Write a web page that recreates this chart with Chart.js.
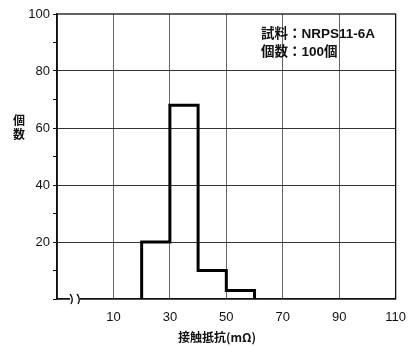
<!DOCTYPE html>
<html>
<head>
<meta charset="utf-8">
<script src="https://cdn.jsdelivr.net/npm/chart.js@4/dist/chart.umd.min.js"></script>
<style>
  html, body { margin: 0; padding: 0; background: #fff; }
  #wrap { width: 417px; height: 347px; }
</style>
</head>
<body>
<div id="wrap"><canvas id="grafico"></canvas></div>
<script>
// Datos del histograma
const binEdges = [20, 30, 40, 50, 60];      // limites de las clases (mΩ)
const counts = [20, 68, 10, 3];             // cantidad por clase
const xTicks = [-10, 10, 30, 50, 70, 90, 110];
const yTicks = [0, 10, 20, 30, 40, 50, 60, 70, 80, 90, 100];

const xTitle = "接触抵抗(mΩ)";
const yTitle = ["個", "数"];
const notes = ["試料：NRPS11-6A", "個数：100個"];

const FONT = "'Liberation Sans', Arial, sans-serif";

// Construye el contorno escalonado del histograma
const outline = [{x: binEdges[0], y: 0}];
counts.forEach((c, i) => {
    outline.push({x: binEdges[i], y: c});
    outline.push({x: binEdges[i + 1], y: c});
});
outline.push({x: binEdges[binEdges.length - 1], y: 0});

// Marco, titulos y anotaciones
const extras = {
    id: 'extras',
    afterDraw(chart) {
        const {ctx, chartArea: a} = chart;
        ctx.save();
        ctx.setLineDash([]);
        ctx.strokeStyle = '#111';
        ctx.lineWidth = 1.3;
        ctx.strokeRect(a.left, a.top, a.right - a.left, a.bottom - a.top);

        // simbolo de corte en el eje x
        ctx.strokeStyle = '#fff';
        ctx.lineWidth = 5;
        ctx.beginPath();
        ctx.moveTo(70, a.bottom); ctx.lineTo(80, a.bottom);
        ctx.stroke();
        ctx.strokeStyle = '#111';
        ctx.lineWidth = 1.3;
        [70, 77].forEach(x0 => {
            ctx.beginPath();
            ctx.moveTo(x0, a.bottom - 5);
            ctx.quadraticCurveTo(x0 + 4, a.bottom, x0 + 1, a.bottom + 5);
            ctx.stroke();
        });

        ctx.fillStyle = '#111';
        ctx.font = "bold 12px 'Noto Sans CJK JP', sans-serif";
        ctx.textAlign = 'center';
        ctx.textBaseline = 'middle';
        ctx.fillText(xTitle, 217, 337);
        yTitle.forEach((t, i) => ctx.fillText(t, 19, 120 + i * 14));

        ctx.textAlign = 'left';
        ctx.font = "bold 13.5px 'Liberation Sans', 'Noto Sans CJK JP', sans-serif";
        notes.forEach((t, i) => ctx.fillText(t, 261, 34 + i * 18));
        ctx.restore();
    }
};

const ctx = document.getElementById('grafico').getContext('2d');
new Chart(ctx, {
    type: 'line',
    data: {
        datasets: [{
            data: outline,
            borderColor: '#000',
            borderWidth: 3,
            pointRadius: 0,
            tension: 0,
            fill: false
        }]
    },
    options: {
        responsive: true,
        maintainAspectRatio: false,
        animation: false,
        layout: { padding: { top: 14, right: 17, left: 0, bottom: 0 } },
        plugins: { legend: { display: false }, tooltip: { enabled: false } },
        scales: {
            x: {
                type: 'linear',
                min: -10,
                max: 110,
                afterBuildTicks: s => { s.ticks = xTicks.map(v => ({value: v})); },
                afterFit: s => { s.height = 48; },
                border: { display: true, color: '#111', width: 1.3 },
                grid: {
                    color: '#666',
                    lineWidth: 1,
                    tickLength: 0,
                    drawTicks: false
                },
                ticks: {
                    color: '#111',
                    padding: 11,
                    maxRotation: 0,
                    font: { family: FONT, size: 13 },
                    callback: v => v < 0 ? '' : v
                }
            },
            y: {
                min: 0,
                max: 100,
                afterBuildTicks: s => { s.ticks = yTicks.map(v => ({value: v})); },
                afterFit: s => { s.width = 57; },
                border: { display: true, color: '#111', width: 1.3 },
                grid: {
                    color: c => (c.tick.value % 20 === 0 && c.tick.value > 0 && c.tick.value < 100) ? '#333' : 'rgba(0,0,0,0)',
                    tickColor: '#111',
                    tickLength: 4,
                    lineWidth: 1
                },
                ticks: {
                    color: '#111',
                    padding: 3,
                    font: { family: FONT, size: 13 },
                    callback: v => (v % 20 === 0 && v > 0) ? v : ''
                }
            }
        }
    },
    plugins: [extras]
});
</script>
</body>
</html>
